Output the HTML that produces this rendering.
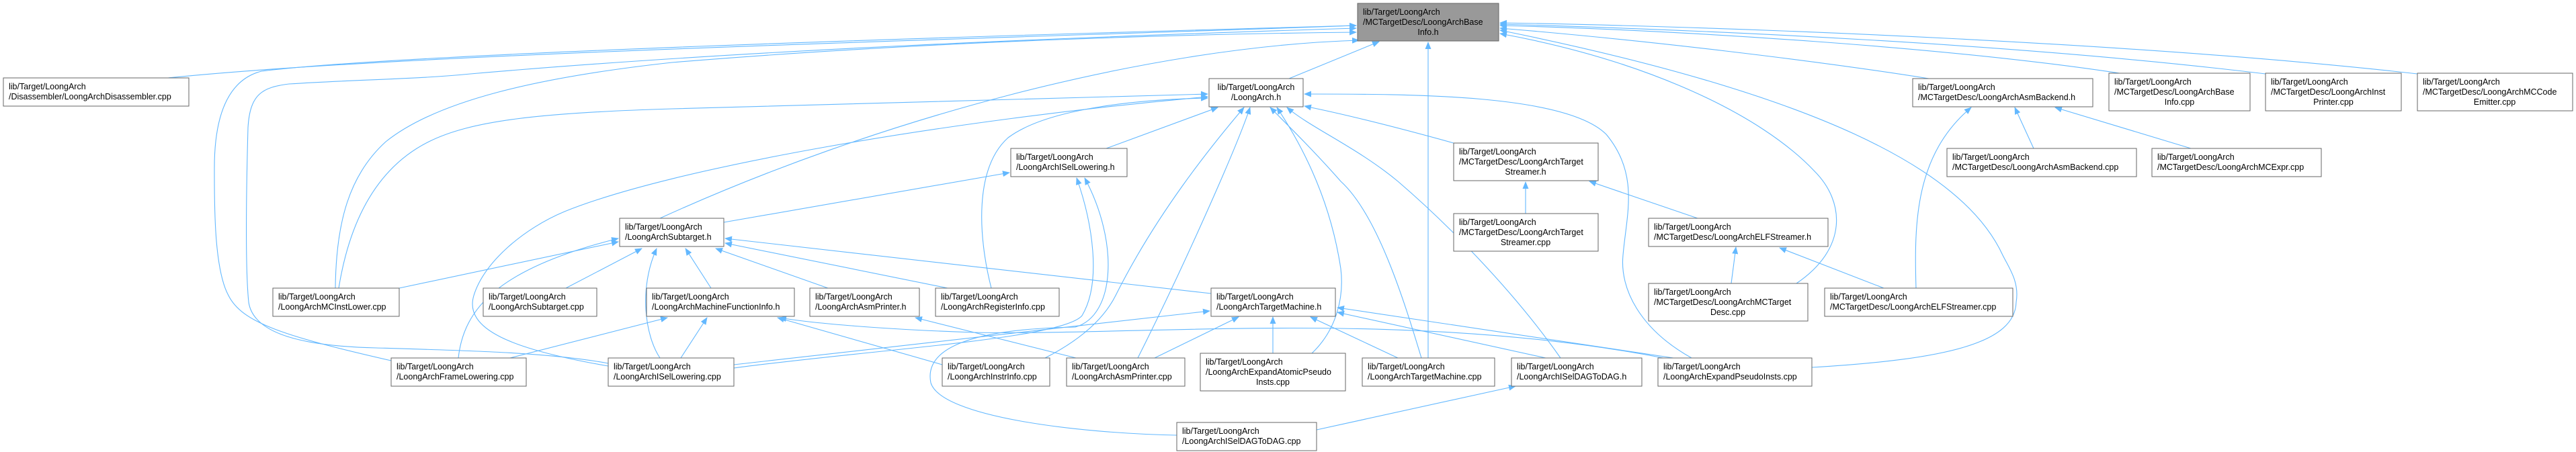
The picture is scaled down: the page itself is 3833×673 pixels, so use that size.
<!DOCTYPE html>
<html><head><meta charset="utf-8"><style>
html,body{margin:0;padding:0;background:#fff;}
svg{display:block;}
text{font-family:"Liberation Sans",Arial,sans-serif;font-size:12.5px;fill:#000;}
.n rect{fill:#fff;stroke:#666;stroke-width:1;}
.e path{fill:none;stroke:#63b8ff;stroke-width:1.1;}
</style></head><body>
<svg width="3833" height="673" viewBox="0 0 3833 673" xmlns="http://www.w3.org/2000/svg">
<defs><marker id="a" markerUnits="userSpaceOnUse" markerWidth="11" markerHeight="9" refX="10" refY="4.5" orient="auto"><path d="M0,0 L11,4.5 L0,9 z" fill="#63b8ff"/></marker></defs>
<g class="e">
<path marker-end="url(#a)" d="M250,116 C600,80 1400,60 2018,38"/>
<path marker-end="url(#a)" d="M582,537 C420,500 360,480 340,440 C318,400 319,300 319,250 C319,180 335,120 389,106 C600,80 1400,55 2018,38"/>
<path marker-end="url(#a)" d="M905,541 C820,525 700,522 560,518 C430,515 376,490 370,450 C365,400 366,300 369,190 C372,140 390,130 430,125 C540,118 620,118 700,110 C1100,75 1600,55 2018,42"/>
<path marker-end="url(#a)" d="M499,429 C500,330 520,260 574,211 C650,150 800,115 1000,93 C1400,60 1800,50 2018,48"/>
<path marker-end="url(#a)" d="M982,325 C1300,180 1700,70 2022,60"/>
<path marker-end="url(#a)" d="M1918,117 L2052,62"/>
<path marker-end="url(#a)" d="M2125,533 L2125,63"/>
<path marker-end="url(#a)" d="M2673,422 C2750,370 2745,300 2700,255 C2620,170 2450,90 2232,50"/>
<path marker-end="url(#a)" d="M2696,547 C2900,535 2998,510 3000,450 C3005,420 2990,400 2980,380 C2920,250 2700,140 2232,45"/>
<path marker-end="url(#a)" d="M2870,117 C2700,90 2450,60 2232,42"/>
<path marker-end="url(#a)" d="M3160,110 C2900,70 2500,45 2232,38"/>
<path marker-end="url(#a)" d="M3371,110 C3000,65 2550,45 2232,36"/>
<path marker-end="url(#a)" d="M3597,110 C3200,65 2600,40 2232,34"/>
<path marker-end="url(#a)" d="M504,429 C520,330 560,250 638,211 C700,180 800,168 1000,162 C1300,152 1600,143 1797,140"/>
<path marker-end="url(#a)" d="M905,545 C760,520 690,490 705,440 C720,390 780,340 840,315 C1000,250 1400,180 1797,144"/>
<path marker-end="url(#a)" d="M1475,429 C1455,350 1450,250 1500,205 C1560,160 1700,148 1797,146"/>
<path marker-end="url(#a)" d="M1646,221 L1812,160"/>
<path marker-end="url(#a)" d="M1555,533 C1600,510 1640,480 1660,440 C1720,320 1800,220 1851,160"/>
<path marker-end="url(#a)" d="M1693,533 C1760,400 1840,220 1860,160"/>
<path marker-end="url(#a)" d="M1952,526 C1990,490 2000,440 1995,400 C1980,300 1940,220 1900,160"/>
<path marker-end="url(#a)" d="M2115,533 C2090,450 2050,320 1995,270 C1960,230 1920,190 1890,160"/>
<path marker-end="url(#a)" d="M2322,533 C2250,430 2150,330 2080,270 C2020,220 1950,190 1915,160"/>
<path marker-end="url(#a)" d="M2163,213 C2080,190 2000,170 1941,158"/>
<path marker-end="url(#a)" d="M2517,533 C2440,490 2410,430 2415,380 C2420,320 2440,260 2390,200 C2330,140 2100,140 1941,140"/>
<path marker-end="url(#a)" d="M1077,331 L1502,257"/>
<path marker-end="url(#a)" d="M1092,548 C1300,520 1580,505 1610,470 C1640,420 1625,330 1602,265"/>
<path marker-end="url(#a)" d="M1751,648 C1600,645 1400,620 1385,570 C1375,520 1440,490 1600,487 C1660,470 1665,360 1614,265"/>
<path marker-end="url(#a)" d="M594,429 L920,360"/>
<path marker-end="url(#a)" d="M682,533 C690,460 740,400 920,355"/>
<path marker-end="url(#a)" d="M842,429 L955,370"/>
<path marker-end="url(#a)" d="M982,533 C960,500 950,430 977,370"/>
<path marker-end="url(#a)" d="M1058,429 L1020,370"/>
<path marker-end="url(#a)" d="M1232,429 L1065,370"/>
<path marker-end="url(#a)" d="M1410,429 L1079,362"/>
<path marker-end="url(#a)" d="M1802,437 L1079,355"/>
<path marker-end="url(#a)" d="M1013,533 L1052,473"/>
<path marker-end="url(#a)" d="M759,533 L993,473"/>
<path marker-end="url(#a)" d="M1402,543 L1157,473"/>
<path marker-end="url(#a)" d="M2475,533 C2100,460 1700,500 1450,495 C1300,490 1200,480 1160,473"/>
<path marker-end="url(#a)" d="M1601,533 L1362,473"/>
<path marker-end="url(#a)" d="M1092,543 L1800,463"/>
<path marker-end="url(#a)" d="M1718,533 L1843,472"/>
<path marker-end="url(#a)" d="M1894,526 L1894,472"/>
<path marker-end="url(#a)" d="M2080,533 L1950,472"/>
<path marker-end="url(#a)" d="M2300,533 L1990,465"/>
<path marker-end="url(#a)" d="M2490,533 L1990,458"/>
<path marker-end="url(#a)" d="M1959,640 L2255,575"/>
<path marker-end="url(#a)" d="M2270,318 L2270,271"/>
<path marker-end="url(#a)" d="M2526,325 L2365,270"/>
<path marker-end="url(#a)" d="M2576,422 L2583,368"/>
<path marker-end="url(#a)" d="M2803,429 L2648,369"/>
<path marker-end="url(#a)" d="M3026,221 L2998,160"/>
<path marker-end="url(#a)" d="M3260,221 L3058,160"/>
<path marker-end="url(#a)" d="M2851,429 C2848,330 2850,230 2933,160"/>
</g>
<g class="n">
<rect x="2020" y="5" width="210" height="56" style="fill:#999"/>
<text x="2028" y="22">lib/Target/LoongArch</text><text x="2028" y="37">/MCTargetDesc/LoongArchBase</text><text x="2125" y="52" text-anchor="middle">Info.h</text>

<rect x="5" y="116" width="276" height="42"/><text x="13" y="133">lib/Target/LoongArch</text><text x="13" y="148">/Disassembler/LoongArchDisassembler.cpp</text>
<rect x="1799" y="117" width="140" height="42"/><text x="1869" y="134" text-anchor="middle">lib/Target/LoongArch</text><text x="1869" y="149" text-anchor="middle">/LoongArch.h</text>
<rect x="2846" y="117" width="268" height="42"/><text x="2854" y="134">lib/Target/LoongArch</text><text x="2854" y="149">/MCTargetDesc/LoongArchAsmBackend.h</text>

<rect x="3138" y="109" width="210" height="56"/><text x="3146" y="126">lib/Target/LoongArch</text><text x="3146" y="141">/MCTargetDesc/LoongArchBase</text><text x="3243" y="156" text-anchor="middle">Info.cpp</text>
<rect x="3371" y="109" width="202" height="56"/><text x="3379" y="126">lib/Target/LoongArch</text><text x="3379" y="141">/MCTargetDesc/LoongArchInst</text><text x="3472" y="156" text-anchor="middle">Printer.cpp</text>
<rect x="3597" y="109" width="231" height="56"/><text x="3605" y="126">lib/Target/LoongArch</text><text x="3605" y="141">/MCTargetDesc/LoongArchMCCode</text><text x="3712" y="156" text-anchor="middle">Emitter.cpp</text>

<rect x="1504" y="221" width="173" height="42"/><text x="1512" y="238">lib/Target/LoongArch</text><text x="1512" y="253">/LoongArchISelLowering.h</text>
<rect x="2163" y="213" width="215" height="56"/><text x="2171" y="230">lib/Target/LoongArch</text><text x="2171" y="245">/MCTargetDesc/LoongArchTarget</text><text x="2270" y="260" text-anchor="middle">Streamer.h</text>
<rect x="2897" y="221" width="282" height="42"/><text x="2905" y="238">lib/Target/LoongArch</text><text x="2905" y="253">/MCTargetDesc/LoongArchAsmBackend.cpp</text>
<rect x="3202" y="221" width="252" height="42"/><text x="3210" y="238">lib/Target/LoongArch</text><text x="3210" y="253">/MCTargetDesc/LoongArchMCExpr.cpp</text>

<rect x="2163" y="318" width="215" height="56"/><text x="2171" y="335">lib/Target/LoongArch</text><text x="2171" y="350">/MCTargetDesc/LoongArchTarget</text><text x="2270" y="365" text-anchor="middle">Streamer.cpp</text>
<rect x="922" y="325" width="155" height="42"/><text x="930" y="342">lib/Target/LoongArch</text><text x="930" y="357">/LoongArchSubtarget.h</text>
<rect x="2453" y="325" width="267" height="42"/><text x="2461" y="342">lib/Target/LoongArch</text><text x="2461" y="357">/MCTargetDesc/LoongArchELFStreamer.h</text>

<rect x="2453" y="422" width="237" height="56"/><text x="2461" y="439">lib/Target/LoongArch</text><text x="2461" y="454">/MCTargetDesc/LoongArchMCTarget</text><text x="2571" y="469" text-anchor="middle">Desc.cpp</text>
<rect x="406" y="429" width="188" height="42"/><text x="414" y="446">lib/Target/LoongArch</text><text x="414" y="461">/LoongArchMCInstLower.cpp</text>
<rect x="719" y="429" width="169" height="42"/><text x="727" y="446">lib/Target/LoongArch</text><text x="727" y="461">/LoongArchSubtarget.cpp</text>
<rect x="962" y="429" width="220" height="42"/><text x="970" y="446">lib/Target/LoongArch</text><text x="970" y="461">/LoongArchMachineFunctionInfo.h</text>
<rect x="1205" y="429" width="163" height="42"/><text x="1213" y="446">lib/Target/LoongArch</text><text x="1213" y="461">/LoongArchAsmPrinter.h</text>
<rect x="1392" y="429" width="184" height="42"/><text x="1400" y="446">lib/Target/LoongArch</text><text x="1400" y="461">/LoongArchRegisterInfo.cpp</text>
<rect x="1802" y="429" width="185" height="42"/><text x="1810" y="446">lib/Target/LoongArch</text><text x="1810" y="461">/LoongArchTargetMachine.h</text>
<rect x="2715" y="429" width="280" height="42"/><text x="2723" y="446">lib/Target/LoongArch</text><text x="2723" y="461">/MCTargetDesc/LoongArchELFStreamer.cpp</text>

<rect x="582" y="533" width="201" height="42"/><text x="590" y="550">lib/Target/LoongArch</text><text x="590" y="565">/LoongArchFrameLowering.cpp</text>
<rect x="905" y="533" width="187" height="42"/><text x="913" y="550">lib/Target/LoongArch</text><text x="913" y="565">/LoongArchISelLowering.cpp</text>
<rect x="1402" y="533" width="160" height="42"/><text x="1410" y="550">lib/Target/LoongArch</text><text x="1410" y="565">/LoongArchInstrInfo.cpp</text>
<rect x="1587" y="533" width="176" height="42"/><text x="1595" y="550">lib/Target/LoongArch</text><text x="1595" y="565">/LoongArchAsmPrinter.cpp</text>
<rect x="1786" y="526" width="216" height="56"/><text x="1794" y="543">lib/Target/LoongArch</text><text x="1794" y="558">/LoongArchExpandAtomicPseudo</text><text x="1894" y="573" text-anchor="middle">Insts.cpp</text>
<rect x="2027" y="533" width="197" height="42"/><text x="2035" y="550">lib/Target/LoongArch</text><text x="2035" y="565">/LoongArchTargetMachine.cpp</text>
<rect x="2249" y="533" width="194" height="42"/><text x="2257" y="550">lib/Target/LoongArch</text><text x="2257" y="565">/LoongArchISelDAGToDAG.h</text>
<rect x="2467" y="533" width="229" height="42"/><text x="2475" y="550">lib/Target/LoongArch</text><text x="2475" y="565">/LoongArchExpandPseudoInsts.cpp</text>

<rect x="1751" y="629" width="208" height="42"/><text x="1759" y="646">lib/Target/LoongArch</text><text x="1759" y="661">/LoongArchISelDAGToDAG.cpp</text>
</g>
</svg>
</body></html>
